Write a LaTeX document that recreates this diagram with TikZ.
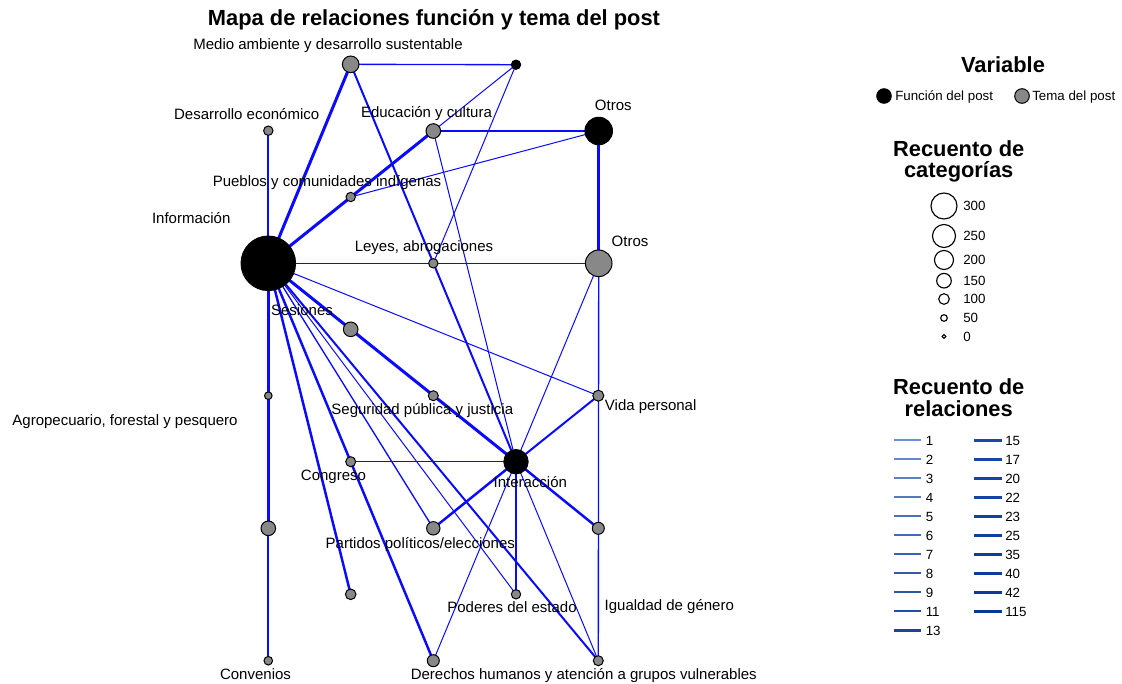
\documentclass[tikz,border=0pt]{standalone}
\usepackage{fontspec}
\setmainfont{Liberation Sans}
\usetikzlibrary{backgrounds}
\definecolor{temagray}{RGB}{136,136,136}
\definecolor{edgeblue}{RGB}{10,10,255}
\definecolor{lglight}{RGB}{108,142,208}
\definecolor{lgdark}{RGB}{28,68,158}
\definecolor{lgnavyA}{RGB}{26,72,168}
\definecolor{lgnavyB}{RGB}{10,56,150}
\begin{document}
\begin{tikzpicture}[x=0.75pt,y=-0.75pt,
  fn/.style={circle,draw=black,fill=black,line width=0.7pt,inner sep=0pt,minimum size=#1},
  tm/.style={circle,draw=black,fill=temagray,line width=0.75pt,inner sep=0pt,minimum size=#1},
  lab/.style={font=\fontsize{11.25}{13}\selectfont,inner sep=0pt,anchor=base},
  lgtext/.style={font=\fontsize{10}{12}\selectfont,inner sep=0pt,anchor=base west},
  lghead/.style={font=\fontsize{16.4}{20}\selectfont\bfseries,inner sep=0pt,anchor=base},
  ea/.style={draw=edgeblue,line width=0.75pt},
  eb/.style={draw=edgeblue,line width=1.0pt},
  eh/.style={draw=edgeblue,line width=0.95pt},
  ec/.style={draw=edgeblue,line width=1.5pt},
  ed/.style={draw=edgeblue,line width=1.85pt},
  ee/.style={draw=edgeblue,line width=2.25pt},
  sizec/.style={circle,draw=black,fill=white,line width=0.85pt,inner sep=0pt,minimum size=#1}
]
\useasboundingbox (0,0) rectangle (1122,683);

% title
\node[lghead] (title) at (434,25) {Mapa de relaciones función y tema del post};

% graph nodes
\node[fn=40.95pt] (info) at (268.3,263.3) {};
\node[tm=12.45pt] (ma) at (350.7,64.3) {};
\node[fn=7.05pt] (f1) at (516,64.7) {};
\node[tm=7.05pt] (de) at (268.3,130.7) {};
\node[tm=10.95pt] (edu) at (433.3,131) {};
\node[fn=20.7pt] (of) at (598.7,131) {};
\node[tm=7.05pt] (pi) at (350.7,197) {};
\node[tm=7.05pt] (la) at (433.3,263.3) {};
\node[tm=19.95pt] (ot) at (598.7,263.3) {};
\node[tm=10.95pt] (ses) at (350.7,329.3) {};
\node[tm=7.5pt] (sp) at (433.3,395.7) {};
\node[tm=8.25pt] (vp) at (598.3,395.7) {};
\node[tm=5.7pt] (af) at (268.3,395.7) {};
\node[tm=7.5pt] (con) at (350.7,461.7) {};
\node[fn=18.3pt] (int) at (516,461.7) {};
\node[tm=10.95pt] (na) at (268.3,528.3) {};
\node[tm=10.05pt] (pp) at (433.3,528.3) {};
\node[tm=9pt] (ig) at (598.3,528.3) {};
\node[tm=7.95pt] (nb) at (350.7,594.3) {};
\node[tm=7.05pt] (pe) at (516,594.3) {};
\node[tm=6.45pt] (cv) at (268.3,660.7) {};
\node[tm=9pt] (dh) at (433.3,660.7) {};
\node[tm=7.5pt] (dhb) at (598.3,660.7) {};

% edges
\begin{scope}[on background layer]
\draw[ee] (info.center) -- (ma.center);
\draw[ec] (info.center) -- (de.center);
\draw[ee] (info.center) -- (edu.center);
\draw[eh] (info.center) -- (ot.center);
\draw[ee] (info.center) -- (int.center);
\draw[ea] (info.center) -- (vp.center);
\draw[ec] (info.center) -- (cv.center);
\draw[ee] (info.center) -- (na.center);
\draw[ed] (info.center) -- (dh.center);
\draw[ed] (info.center) -- (nb.center);
\draw[eb] (info.center) -- (pp.center);
\draw[ea] (info.center) -- (pe.center);
\draw[ec] (info.center) -- (dhb.center);
\draw[eb] (ma.center) -- (f1.center);
\draw[ec] (ma.center) -- (int.center);
\draw[ea] (f1.center) -- (edu.center);
\draw[ea] (f1.center) -- (la.center);
\draw[eh] (edu.center) -- (of.center);
\draw[ea] (edu.center) -- (int.center);
\draw[ea] (of.center) -- (pi.center);
\draw[ee] (of.center) -- (ot.center);
\draw[ea] (ot.center) -- (int.center);
\draw[eb] (ot.center) -- (dhb.center);
\draw[ec] (int.center) -- (vp.center);
\draw[eh] (int.center) -- (con.center);
\draw[ed] (int.center) -- (pp.center);
\draw[ed] (int.center) -- (ig.center);
\draw[ed] (int.center) -- (pe.center);
\draw[ea] (int.center) -- (dh.center);
\draw[ea] (int.center) -- (dhb.center);
\end{scope}

% labels
\node[lab] (lma) at (328,49.3) {Medio ambiente y desarrollo sustentable};
\node[lab] (lde) at (246.7,119.3) {Desarrollo económico};
\node[lab] (ledu) at (426.5,117) {Educación y cultura};
\node[lab] (lof) at (613.3,110.7) {Otros};
\node[lab] (lpi) at (327,186) {Pueblos y comunidades indígenas};
\node[lab] (linfo) at (191.2,223.3) {Información};
\node[lab] (lla) at (424,251.7) {Leyes, abrogaciones};
\node[lab] (lot) at (630,246.3) {Otros};
\node[lab] (lses) at (302,315.7) {Sesiones};
\node[lab] (lsp) at (422.3,414.3) {Seguridad pública y justicia};
\node[lab] (lvp) at (650.7,410) {Vida personal};
\node[lab] (laf) at (125,425.7) {Agropecuario, forestal y pesquero};
\node[lab] (lcon) at (333.5,480.7) {Congreso};
\node[lab] (lint) at (530.3,487.3) {Interacción};
\node[lab] (lpp) at (420.3,548.3) {Partidos políticos/elecciones};
\node[lab] (lpe) at (512,612.3) {Poderes del estado};
\node[lab] (lig) at (669.3,610.7) {Igualdad de género};
\node[lab] (ldh) at (583.8,679) {Derechos humanos y atención a grupos vulnerables};
\node[lab] (lcv) at (255.5,679) {Convenios};

% legend: Variable
\node[lghead] (hvar) at (1003,72) {Variable};
\node[fn=10.95pt] (kfn) at (884,96) {};
\node[lgtext] (tfn) at (895,100.7) {Función del post};
\node[tm=10.95pt] (ktm) at (1022,96) {};
\node[lgtext] (ttm) at (1032,100.7) {Tema del post};

% legend: Recuento de categorias
\node[lghead] (hcat1) at (958.7,156) {Recuento de};
\node[lghead] (hcat2) at (958.7,177) {categorías};
\foreach \yy/\dd/\tt [count=\k] in {206/19.5pt/300, 236/17.25pt/250, 260/14.25pt/200, 280.7/10.95pt/150, 299/7.95pt/100, 318/4.95pt/50, 336.5/2.8pt/0}{
  \node[sizec=\dd] (sc\k) at (944,\yy) {};
  \node[lgtext] (st\k) at (963,\yy+4.8) {\tt};
}

% legend: Recuento de relaciones
\node[lghead] (hrel1) at (958.7,394.5) {Recuento de};
\node[lghead] (hrel2) at (958.7,416) {relaciones};
\foreach \tt [count=\i from 0] in {1,2,3,4,5,6,7,8,9,11,13}{
  \pgfmathtruncatemacro\pct{100-\i*10}
  \pgfmathsetmacro\lw{1.3+\i*0.05}
  \draw[line width=\lw pt,color=lglight!\pct!lgdark] (894,{440.3+19*\i}) -- (921,{440.3+19*\i});
  \node[lgtext] (ra\i) at (925.5,{440.3+19*\i+4.8}) {\tt};
}
\foreach \tt [count=\i from 0] in {15,17,20,22,23,25,35,40,42,115}{
  \pgfmathtruncatemacro\pct{100-\i*11}
  \pgfmathsetmacro\lw{2.1+\i*0.05}
  \draw[line width=\lw pt,color=lgnavyA!\pct!lgnavyB] (974,{440.3+19*\i}) -- (1002,{440.3+19*\i});
  \node[lgtext] (rb\i) at (1005,{440.3+19*\i+4.8}) {\tt};
}
\end{tikzpicture}
\end{document}
